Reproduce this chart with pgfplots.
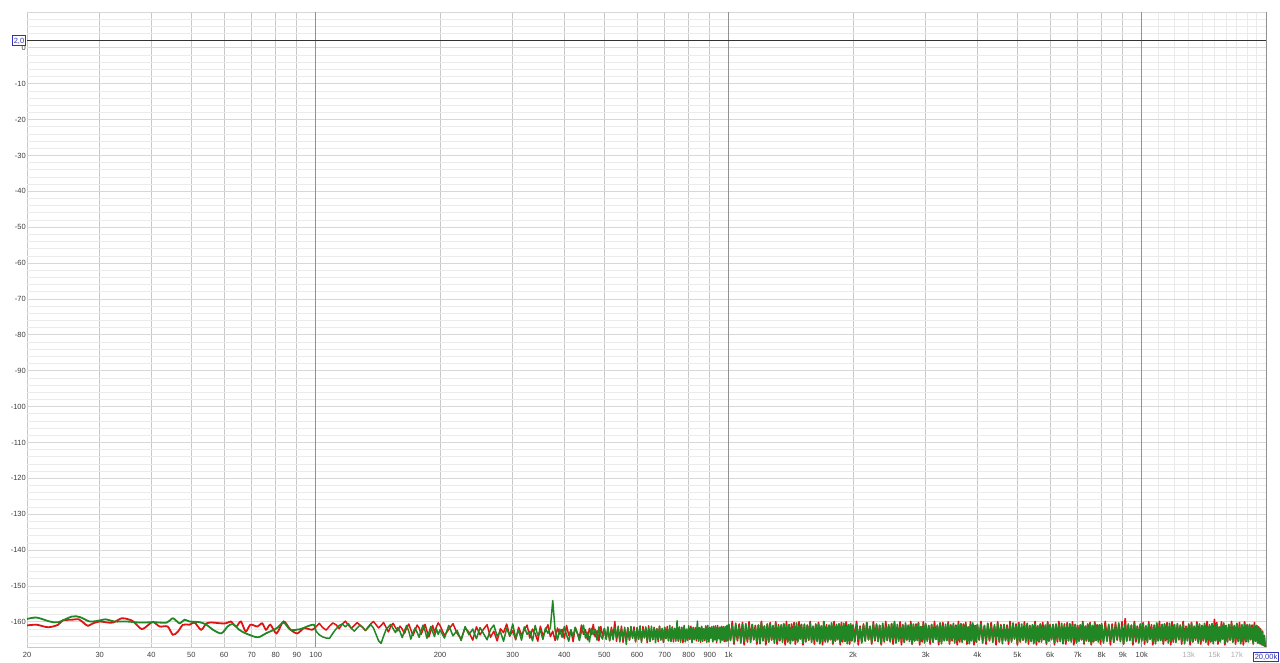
\documentclass[border=0pt]{standalone}
\usepackage{fontspec}
\setmainfont{Liberation Sans}
\usepackage{pgfplots}
\usepackage{pgfplotstable}
\pgfplotsset{compat=1.18}

\definecolor{redline}{RGB}{222,20,20}
\definecolor{greenline}{RGB}{32,135,36}
\definecolor{gridminor}{RGB}{235,235,235}
\definecolor{gridhmajor}{RGB}{216,216,216}
\definecolor{gridvmajor}{RGB}{200,200,200}
\definecolor{griddecade}{RGB}{145,145,145}
\definecolor{labelgray}{RGB}{60,60,60}
\definecolor{boxblue}{RGB}{50,50,180}

\newcommand{\boxlab}[1]{{\fboxsep=0.8pt\fboxrule=0.8pt\fcolorbox{boxblue}{white}{\textcolor{boxblue}{#1}}}}

% low end, smooth part (Hz, dBFS)
\pgfplotstableread{
f db
20 -161.0
21.1 -160.8
22.5 -161.5
23.8 -160.8
24.4 -159.6
25.7 -159.4
26.7 -159.3
27.5 -160.4
28.1 -161.1
28.9 -160.4
30.0 -159.9
31.0 -160.1
32.3 -160.2
33.9 -159.0
35.2 -159.3
36.2 -159.9
37.9 -162.0
39.4 -160.8
40.4 -160.0
41.9 -161.3
43.8 -161.3
45.1 -163.6
46.4 -162.7
47.7 -160.8
49.5 -160.8
50.9 -160.2
52.8 -162.2
54.4 -160.4
56.4 -160.2
58.6 -160.4
60.7 -160.4
62.3 -159.9
64.2 -161.3
65.9 -159.9
67.7 -162.7
69.5 -160.8
72.3 -161.3
74.2 -160.4
75.8 -162.2
77.7 -160.8
80.4 -163.2
83.6 -159.9
86.9 -162.2
90.3 -163.2
93.6 -161.8
98.0 -162.2
100 -161.5
}\redlow

\pgfplotstableread{
f db
20 -159.2
21.1 -158.8
22.7 -159.9
23.8 -160.1
25.7 -158.5
26.9 -158.7
28.4 -159.9
30.0 -159.6
31.0 -159.3
32.6 -159.9
34.9 -159.9
37.6 -160.2
40.4 -160.1
43.6 -160.2
45.1 -159.0
46.8 -160.4
48.1 -159.4
49.5 -159.9
52.4 -160.1
54.4 -160.8
56.4 -162.2
59.1 -163.2
61.2 -161.3
63.0 -160.6
65.3 -162.2
67.7 -163.2
72.3 -164.3
75.8 -163.2
80.4 -161.8
83.6 -160.2
86.9 -162.2
91.9 -162.0
95.3 -161.3
99.0 -160.8
100 -162.5
}\greenlow

% 100 Hz - 1 kHz, both channels (Hz, left dBFS, right dBFS)
\pgfplotstableread{
f r g
100 -161.5 -162.5
102 -160.4 -163.6
104 -161.6 -164.2
106 -162.3 -164.5
108 -161.2 -164.6
110 -160.3 -163.2
112 -160.8 -162.0
114 -161.9 -161.0
116 -160.6 -160.6
118 -159.8 -161.4
120 -160.9 -160.5
122 -161.8 -161.8
124 -161.0 -162.6
126 -160.2 -161.7
128 -160.9 -160.9
130 -161.6 -161.5
132 -162.4 -162.4
134 -161.4 -161.6
136 -160.5 -160.8
138 -159.9 -161.7
140 -160.8 -163.5
142 -161.7 -165.3
144 -161.0 -166.0
146 -160.2 -164.0
148 -161.5 -162.2
150 -162.8 -161.4
152 -161.3 -160.7
154 -160.4 -161.9
156 -161.6 -163.0
158 -162.5 -161.6
160 -161.2 -162.7
162 -162.0 -164.4
164 -163.3 -162.5
166 -161.7 -161.0
168 -160.6 -162.6
170 -162.2 -164.8
172 -163.8 -163.0
174 -162.4 -161.7
176 -160.9 -162.9
178 -161.7 -164.3
180 -163.5 -162.4
182 -162.1 -160.9
184 -160.7 -162.5
186 -162.6 -164.6
188 -164.2 -163.0
190 -162.5 -161.3
192 -161.0 -162.8
194 -162.9 -164.1
196 -161.4 -161.9
198 -160.3 -163.5
200 -161.0 -162.2
205 -163.8 -164.5
210 -162.1 -161.0
215 -160.5 -163.9
220 -163.2 -162.4
225 -164.8 -165.2
230 -161.7 -161.3
235 -162.9 -163.6
240 -165.1 -162.0
245 -161.4 -164.7
250 -163.6 -161.6
255 -162.0 -163.3
260 -160.8 -165.0
265 -164.3 -162.1
270 -162.6 -160.9
275 -165.3 -164.0
280 -161.9 -162.7
285 -163.0 -165.4
290 -160.6 -161.8
295 -164.0 -163.8
300 -162.4 -160.6
305 -165.0 -164.6
310 -161.5 -162.2
315 -163.7 -165.1
320 -162.2 -161.4
325 -160.9 -163.5
330 -164.5 -162.6
335 -162.0 -165.3
340 -163.3 -161.0
345 -165.4 -163.9
350 -161.2 -162.3
355 -163.9 -164.9
360 -162.5 -161.7
365 -160.8 -163.2
370 -164.1 -161.6
375 -162.6 -154.1
380 -165.2 -162.4
385 -161.7 -165.0
390 -163.4 -162.0
395 -162.1 -164.3
400 -164.6 -161.3
405 -161.0 -163.7
410 -163.8 -165.4
415 -162.3 -162.2
420 -165.5 -164.0
425 -161.6 -161.5
430 -163.1 -163.2
435 -164.4 -165.2
440 -160.9 -162.7
445 -163.5 -160.9
450 -162.2 -164.5
455 -165.0 -162.9
460 -161.8 -165.6
465 -163.6 -161.8
470 -160.7 -163.6
475 -164.2 -162.1
480 -162.5 -165.1
485 -165.3 -161.4
490 -161.3 -163.9
495 -163.9 -164.8
500 -161.8 -161.9
505 -164.6 -164.9
510 -162.0 -161.4
515 -165.2 -165.3
520 -161.5 -162.2
525 -164.1 -165.0
530 -159.9 -161.6
535 -165.4 -164.4
540 -161.9 -161.2
545 -164.8 -165.6
550 -161.2 -162.0
555 -165.7 -164.7
560 -162.3 -161.5
565 -164.5 -166.3
570 -161.6 -161.8
575 -165.1 -165.0
580 -162.1 -161.3
585 -164.3 -164.6
590 -161.4 -162.3
595 -165.6 -165.4
600 -161.7 -161.6
605 -164.9 -164.8
610 -162.2 -161.1
615 -165.3 -165.7
620 -161.3 -162.1
625 -164.4 -164.5
630 -161.8 -161.4
635 -165.8 -165.2
640 -161.1 -161.9
645 -164.7 -165.5
650 -162.4 -161.2
655 -165.0 -164.9
660 -161.5 -161.7
665 -164.2 -165.8
670 -161.9 -162.0
675 -165.5 -164.6
680 -161.2 -161.3
685 -164.9 -165.1
690 -162.0 -161.8
695 -165.7 -165.6
700 -161.6 -161.5
705 -164.6 -164.7
710 -161.3 -162.2
715 -165.2 -165.3
720 -162.1 -161.0
725 -164.8 -165.5
730 -161.4 -161.6
735 -165.6 -164.9
740 -161.8 -161.9
745 -164.3 -165.4
750 -161.1 -159.7
755 -165.4 -165.0
760 -162.2 -161.4
765 -164.7 -165.7
770 -161.5 -161.8
775 -165.8 -164.8
780 -161.0 -161.3
785 -164.5 -165.6
790 -162.3 -162.0
795 -165.1 -165.2
800 -161.7 -161.1
805 -164.9 -164.6
810 -161.2 -161.7
815 -165.5 -165.8
820 -162.0 -161.5
825 -164.4 -165.0
830 -161.6 -162.1
835 -165.3 -164.7
840 -161.3 -159.8
845 -164.8 -165.4
850 -161.9 -161.6
855 -165.7 -165.1
860 -161.4 -161.2
865 -164.6 -165.5
870 -162.1 -161.9
875 -165.2 -164.8
880 -161.1 -161.4
885 -164.7 -165.7
890 -161.8 -161.0
895 -165.6 -165.2
900 -161.5 -161.8
905 -164.3 -164.6
910 -162.2 -161.3
915 -165.4 -165.6
920 -161.2 -161.7
925 -164.9 -165.0
930 -161.7 -161.1
935 -165.8 -165.4
940 -161.0 -161.9
945 -164.5 -164.7
950 -162.0 -161.5
955 -165.1 -165.8
960 -161.6 -161.2
965 -164.8 -165.1
970 -161.3 -161.6
975 -165.5 -164.9
980 -161.9 -161.3
985 -164.6 -165.5
990 -161.4 -161.0
995 -165.3 -165.2
1000 -160.9 -160.6
}\midtab

% 1 kHz - 20 kHz, both channels (Hz, left dBFS, right dBFS)
\pgfplotstableread{
f r g
1000 -160.9 -160.6
1010 -165.0 -165.2
1020 -159.9 -161.0
1030 -166.2 -165.6
1040 -161.2 -160.4
1050 -165.3 -164.8
1060 -160.6 -161.3
1070 -164.7 -165.9
1080 -160.2 -160.8
1090 -166.4 -165.4
1100 -161.4 -160.5
1110 -165.6 -165.0
1120 -160.0 -161.1
1130 -165.1 -165.7
1140 -160.8 -160.7
1150 -165.0 -164.9
1160 -161.0 -161.5
1170 -166.2 -165.5
1180 -160.9 -160.9
1190 -165.3 -166.1
1200 -159.9 -160.3
1210 -164.7 -165.3
1220 -161.2 -161.2
1230 -166.4 -165.2
1240 -160.6 -160.7
1250 -165.6 -165.6
1260 -160.2 -160.6
1270 -165.1 -164.8
1280 -161.4 -161.0
1290 -165.0 -165.9
1300 -160.0 -160.4
1310 -166.2 -165.4
1320 -160.8 -161.3
1330 -165.3 -165.0
1340 -161.0 -160.8
1350 -164.7 -165.7
1360 -160.9 -160.5
1370 -166.4 -164.9
1380 -159.9 -161.1
1390 -165.6 -165.5
1400 -161.2 -160.7
1410 -165.1 -166.1
1420 -160.6 -161.5
1430 -165.0 -165.3
1440 -160.2 -160.9
1450 -166.2 -165.2
1460 -161.4 -160.3
1470 -165.3 -165.6
1480 -160.0 -161.2
1490 -164.7 -164.8
1500 -160.8 -160.7
1512.5 -166.4 -165.9
1525 -161.0 -160.6
1537.5 -165.6 -165.4
1550 -160.9 -161.0
1562.5 -165.1 -165.0
1575 -159.9 -160.4
1587.5 -165.0 -165.7
1600 -161.2 -161.3
1612.5 -166.2 -164.9
1625 -160.6 -160.8
1637.5 -165.3 -165.5
1650 -160.2 -160.5
1662.5 -164.7 -166.1
1675 -161.4 -161.1
1687.5 -166.4 -165.3
1700 -160.0 -159.9
1712.5 -165.6 -165.2
1725 -160.8 -161.5
1737.5 -165.1 -165.6
1750 -161.0 -160.9
1762.5 -165.0 -164.8
1775 -160.9 -160.3
1787.5 -166.2 -165.9
1800 -159.9 -161.2
1812.5 -165.3 -165.4
1825 -161.2 -160.7
1837.5 -164.7 -165.0
1850 -160.6 -160.6
1862.5 -166.4 -165.7
1875 -160.2 -161.0
1887.5 -165.6 -164.9
1900 -161.4 -160.4
1912.5 -165.1 -165.5
1925 -160.0 -161.3
1937.5 -165.0 -166.1
1950 -160.8 -160.8
1962.5 -166.2 -165.3
1975 -161.0 -160.5
1987.5 -165.3 -165.2
2000 -160.9 -161.1
2020 -164.7 -165.6
2040 -159.9 -160.7
2060 -166.4 -164.8
2080 -161.2 -161.5
2100 -165.6 -165.9
2120 -160.6 -160.9
2140 -165.1 -165.4
2160 -160.2 -160.3
2180 -165.0 -165.0
2200 -161.4 -161.2
2220 -166.2 -165.7
2240 -160.0 -160.7
2260 -165.3 -164.9
2280 -160.8 -160.6
2300 -164.7 -165.5
2320 -161.0 -161.0
2340 -166.4 -166.1
2360 -160.9 -160.4
2380 -165.6 -165.3
2400 -159.9 -161.3
2420 -165.1 -165.2
2440 -161.2 -160.8
2460 -165.0 -165.6
2480 -160.6 -160.5
2500 -166.2 -164.8
2520 -160.2 -159.9
2540 -165.3 -165.9
2560 -161.4 -160.7
2580 -164.7 -165.4
2600 -160.0 -161.5
2620 -166.4 -165.0
2640 -160.8 -160.9
2660 -165.6 -165.7
2680 -161.0 -160.3
2700 -165.1 -164.9
2720 -160.9 -161.2
2740 -165.0 -165.5
2760 -159.9 -160.7
2780 -166.2 -166.1
2800 -161.2 -160.6
2820 -165.3 -165.3
2840 -160.6 -161.0
2860 -164.7 -165.2
2880 -160.2 -160.4
2900 -166.4 -165.6
2920 -161.4 -161.3
2940 -165.6 -164.8
2960 -160.0 -160.8
2980 -165.1 -165.9
3000 -160.8 -160.5
3025 -165.0 -165.4
3050 -161.0 -161.1
3075 -166.2 -165.0
3100 -160.9 -160.7
3125 -165.3 -165.7
3150 -159.9 -161.5
3175 -164.7 -164.9
3200 -161.2 -160.9
3225 -166.4 -165.5
3250 -160.6 -160.3
3275 -165.6 -166.1
3300 -160.2 -161.2
3325 -165.1 -165.3
3350 -161.4 -160.7
3375 -165.0 -165.2
3400 -160.0 -160.6
3425 -166.2 -165.6
3450 -160.8 -161.0
3475 -165.3 -164.8
3500 -161.0 -160.4
3525 -164.7 -165.9
3550 -160.9 -161.3
3575 -166.4 -165.4
3600 -159.9 -160.8
3625 -165.6 -165.0
3650 -161.2 -160.5
3675 -165.1 -165.7
3700 -160.6 -161.1
3725 -165.0 -164.9
3750 -160.2 -160.7
3775 -166.2 -165.5
3800 -161.4 -161.5
3825 -165.3 -166.1
3850 -160.0 -160.9
3875 -164.7 -165.3
3900 -160.8 -160.3
3925 -166.4 -165.2
3950 -161.0 -161.2
3975 -165.6 -165.6
4000 -160.9 -160.7
4040 -165.1 -164.8
4080 -159.9 -160.6
4120 -165.0 -165.9
4160 -161.2 -161.0
4200 -166.2 -165.4
4240 -160.6 -160.4
4280 -165.3 -165.0
4320 -160.2 -161.3
4360 -164.7 -165.7
4400 -161.4 -160.8
4440 -166.4 -164.9
4480 -160.0 -160.5
4520 -165.6 -165.5
4560 -160.8 -161.1
4600 -165.1 -166.1
4640 -161.0 -160.7
4680 -165.0 -165.3
4720 -160.9 -161.5
4760 -166.2 -165.2
4800 -159.9 -160.9
4840 -165.3 -165.6
4880 -161.2 -160.3
4920 -164.7 -164.8
4960 -160.6 -161.2
5000 -166.4 -165.9
5040 -160.2 -160.7
5080 -165.6 -165.4
5120 -161.4 -160.6
5160 -165.1 -165.0
5200 -160.0 -161.0
5240 -165.0 -165.7
5280 -160.8 -160.4
5320 -166.2 -164.9
5360 -161.0 -161.3
5400 -165.3 -165.5
5440 -160.9 -160.8
5480 -164.7 -166.1
5520 -159.9 -160.5
5560 -166.4 -165.3
5600 -161.2 -161.1
5640 -165.6 -165.2
5680 -160.6 -160.7
5720 -165.1 -165.6
5760 -160.2 -161.5
5800 -165.0 -164.8
5840 -161.4 -160.9
5880 -166.2 -165.9
5920 -160.0 -160.3
5960 -165.3 -165.4
6000 -160.8 -161.2
6050 -164.7 -165.0
6100 -161.0 -160.7
6150 -166.4 -165.7
6200 -160.9 -160.6
6250 -165.6 -164.9
6300 -159.9 -161.0
6350 -165.1 -165.5
6400 -161.2 -160.4
6450 -165.0 -166.1
6500 -160.6 -161.3
6550 -166.2 -165.3
6600 -160.2 -160.8
6650 -165.3 -165.2
6700 -161.4 -160.5
6750 -164.7 -165.6
6800 -160.0 -161.1
6850 -166.4 -164.8
6900 -160.8 -160.7
6950 -165.6 -165.9
7000 -161.0 -161.5
7050 -165.1 -165.4
7100 -160.9 -160.9
7150 -165.0 -165.0
7200 -159.9 -160.3
7250 -166.2 -165.7
7300 -161.2 -161.2
7350 -165.3 -164.9
7400 -160.6 -160.7
7450 -164.7 -165.5
7500 -160.2 -160.6
7550 -166.4 -166.1
7600 -161.4 -161.0
7650 -165.6 -165.3
7700 -160.0 -160.4
7750 -165.1 -165.2
7800 -160.8 -161.3
7850 -165.0 -165.6
7900 -161.0 -160.8
7950 -166.2 -164.8
8000 -160.9 -160.5
8080 -165.3 -165.9
8160 -159.9 -161.1
8240 -164.7 -165.4
8320 -161.2 -160.7
8400 -166.4 -165.0
8480 -160.6 -161.5
8560 -165.6 -165.7
8640 -160.2 -160.9
8720 -165.1 -164.9
8800 -161.4 -160.3
8880 -165.0 -165.5
8960 -160.0 -161.2
9040 -166.2 -166.1
9120 -159.1 -160.7
9200 -165.3 -165.3
9280 -161.0 -160.6
9360 -164.7 -165.2
9440 -160.9 -161.0
9520 -166.4 -165.6
9600 -159.9 -160.4
9680 -165.6 -164.8
9760 -161.2 -161.3
9840 -165.1 -165.9
9920 -160.6 -160.8
10000 -165.0 -165.4
10080 -160.2 -160.5
10160 -166.2 -165.0
10240 -161.4 -161.1
10320 -165.3 -165.7
10400 -160.0 -160.7
10480 -164.7 -164.9
10560 -160.8 -161.5
10640 -166.4 -165.5
10720 -161.0 -160.9
10800 -165.6 -166.1
10880 -160.9 -160.3
10960 -165.1 -165.3
11040 -159.9 -161.2
11120 -165.0 -165.2
11200 -161.2 -160.7
11280 -166.2 -165.6
11360 -160.6 -160.6
11440 -165.3 -164.8
11520 -160.2 -161.0
11600 -164.7 -165.9
11680 -161.4 -160.4
11760 -166.4 -165.4
11840 -160.0 -161.3
11920 -165.6 -165.0
12000 -160.8 -160.8
12100 -165.1 -165.7
12200 -161.0 -160.5
12300 -165.0 -164.9
12400 -160.9 -161.1
12500 -166.2 -165.5
12600 -159.9 -160.7
12700 -165.3 -166.1
12800 -161.2 -161.5
12900 -164.7 -165.3
13000 -160.6 -160.9
13100 -166.4 -165.2
13200 -160.2 -160.3
13300 -165.6 -165.6
13400 -161.4 -161.2
13500 -165.1 -164.8
13600 -160.0 -160.7
13700 -165.0 -165.9
13800 -160.8 -160.6
13900 -166.2 -165.4
14000 -161.0 -161.0
14100 -165.3 -165.0
14200 -160.9 -160.4
14300 -164.7 -165.7
14400 -159.9 -161.3
14500 -166.4 -164.9
14600 -161.2 -160.8
14700 -165.6 -165.5
14800 -160.6 -160.5
14900 -165.1 -166.1
15000 -159.3 -161.1
15100 -165.0 -165.3
15200 -160.2 -160.7
15300 -166.2 -165.2
15400 -161.4 -161.5
15500 -165.3 -165.6
15600 -160.0 -160.9
15700 -164.7 -164.8
15800 -160.8 -160.3
15900 -166.4 -165.9
16000 -161.0 -161.2
16125 -165.6 -165.4
16250 -160.9 -160.7
16375 -165.1 -165.0
16500 -159.9 -160.6
16625 -165.0 -165.7
16750 -161.2 -161.0
16875 -166.2 -164.9
17000 -160.6 -160.4
17125 -165.3 -165.5
17250 -160.2 -161.3
17375 -164.7 -166.1
17500 -161.4 -160.8
17625 -166.4 -165.3
17750 -160.0 -160.5
17875 -165.6 -165.2
18000 -160.8 -161.1
18125 -165.1 -165.6
18250 -161.0 -160.7
18375 -165.0 -164.8
18500 -160.9 -161.5
18625 -166.2 -165.9
18750 -160.2 -160.9
18875 -165.3 -165.4
19000 -161.0 -161.2
19100 -165.8 -165.9
19200 -161.4 -161.6
19300 -166.1 -166.0
19400 -161.9 -162.1
19500 -166.3 -166.3
19600 -162.6 -162.8
19700 -166.5 -166.6
19800 -163.8 -164.0
19900 -166.8 -166.8
20000 -167.0 -167.0
}\hitab

\pgfplotsset{
  tick label style={font=\fontsize{7.5}{9}\selectfont, text=labelgray},
  xticklabel style={anchor=north, inner sep=0pt, yshift=-5pt},
  yticklabel style={anchor=east, inner sep=0pt, xshift=-1pt},
}

\begin{document}
\begin{tikzpicture}
% border and the light 13k/15k/17k lines
\begin{axis}[name=back,
    scale only axis, width=1239pt, height=635pt,
    xmode=log, xmin=20, xmax=20000, ymin=-167, ymax=10,
    major tick length=0pt, minor tick length=0pt,
    axis line style={draw=gridvmajor},
    xtick={13000,15000,17000}, xticklabels={13k,15k,17k},
    xticklabel style={text=gray!65},
    ytick=\empty,
    grid=major, major x grid style={draw=gridminor, line width=0.8pt},
]
\end{axis}
\begin{axis}[name=main,
    scale only axis, width=1239pt, height=635pt,
    xmode=log, xmin=20, xmax=20000, ymin=-167, ymax=10,
    major tick length=0pt, minor tick length=0pt,
    axis line style={draw=none},
    xtick={20,30,40,50,60,70,80,90,200,300,400,500,600,700,800,900,2000,3000,4000,5000,6000,7000,8000,9000},
    xticklabels={20,30,40,50,60,70,80,90,200,300,400,500,600,700,800,900,2k,3k,4k,5k,6k,7k,8k,9k},
    minor xtick={11000,12000,14000,16000,18000,19000},
    ytick={-160,-150,-140,-130,-120,-110,-100,-90,-80,-70,-60,-50,-40,-30,-20,-10,0,10},
    yticklabels={-160,-150,-140,-130,-120,-110,-100,-90,-80,-70,-60,-50,-40,-30,-20,-10,0,{}},
    minor ytick={-166,-164,...,8},
    grid=both,
    major x grid style={draw=gridvmajor, line width=0.8pt},
    minor x grid style={draw=gridminor, line width=0.8pt},
    major y grid style={draw=gridhmajor, line width=0.8pt},
    minor y grid style={draw=gridminor, line width=0.8pt},
    extra x ticks={100,1000,10000,20000},
    extra x tick labels={100,1k,10k,\raisebox{1pt}{\boxlab{20,00k}}},
    extra x tick style={grid=major, major x grid style={draw=griddecade, line width=1pt}},
    extra y ticks={2}, extra y tick labels={\boxlab{\rule[-1.2pt]{0pt}{7.5pt}2,0}},
    extra y tick style={grid=major, major y grid style={draw=black!80, line width=1.1pt}},
]
\addplot[redline, line width=1.8pt, smooth, tension=0.5] table[x=f, y=db] {\redlow};
\addplot[redline, line width=1.5pt, line join=round] table[x=f, y=r] {\midtab};
\addplot[redline, line width=1.7pt, line join=round] table[x=f, y=r] {\hitab};
\addplot[greenline, line width=1.8pt, smooth, tension=0.5] table[x=f, y=db] {\greenlow};
\addplot[greenline, line width=1.5pt, line join=round] table[x=f, y=g] {\midtab};
\addplot[greenline, line width=1.7pt, line join=round] table[x=f, y=g] {\hitab};
\node[anchor=base east, xshift=-1pt, yshift=4pt, font=\fontsize{7.5}{9}\selectfont, text=labelgray]
  at (rel axis cs:0,1) {dBFS};
\end{axis}
\pgfresetboundingbox
\useasboundingbox ([xshift=-27pt, yshift=-16pt]main.south west) rectangle ([xshift=14pt, yshift=12pt]main.north east);
\end{tikzpicture}
\end{document}
